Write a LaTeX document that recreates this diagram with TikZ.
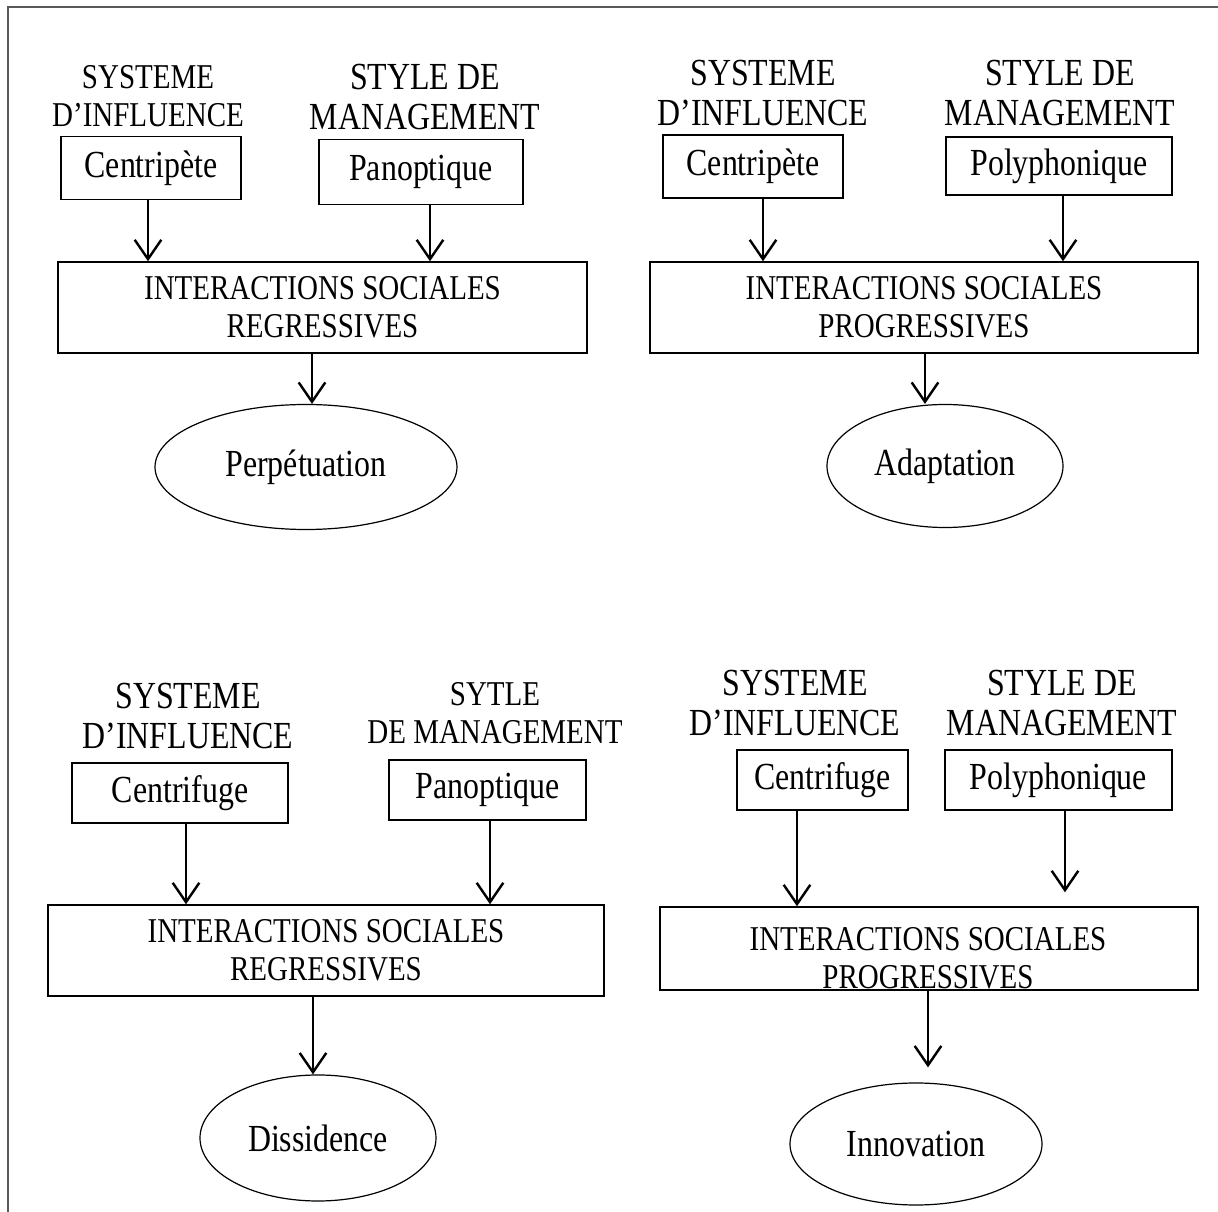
\documentclass[tikz,border=0pt]{standalone}
\usepackage{fontspec}
\setmainfont{Liberation Serif}[FakeStretch=0.833]
\usetikzlibrary{arrows.meta,shapes.geometric}

\newcommand{\pxl}{0.01454cm}

\tikzset{
  heading/.style={align=center, inner sep=0pt},
  smalltext/.style={font=\fontsize{14.4}{15.7}\selectfont},
  smallbox/.style={draw, line width=0.6pt, inner sep=0pt},
  bigbox/.style={draw, line width=0.6pt, align=center, inner sep=0pt, smalltext},
  result/.style={draw, ellipse, line width=0.5pt, inner sep=0pt},
  arr/.style={-{Straight Barb[length=8pt,width=11pt]}, line width=1pt}
}

\begin{document}
\begin{tikzpicture}[x=\pxl, y=-\pxl, font=\fontsize{15.84}{16.6}\selectfont]
      \useasboundingbox (0,0) rectangle (1218,1212);

      % Draw the frame
      \draw[black!65, line width=0.8pt] (8,1212) -- (8,7) -- (1218,7);

      % Top left: regressive, centripete
      \node[heading, smalltext] (si1) at (148,96) {SYSTEME\\D’INFLUENCE};
      \node[heading] (sm1) at (425,97) {STYLE DE\\MANAGEMENT};
      \node[smallbox, minimum width=180*\pxl, minimum height=63*\pxl] (cp1) at (151,168) {Centripète};
      \node[smallbox, minimum width=204*\pxl, minimum height=65*\pxl] (pan1) at (421,172) {Panoptique};
      \node[bigbox, minimum width=529*\pxl, minimum height=91*\pxl] (isr1) at (322.5,307.5) {INTERACTIONS SOCIALES\\REGRESSIVES};
      \node[result, minimum width=302*\pxl, minimum height=125*\pxl] (perp) at (306,467) {Perpétuation};

      % Top right: progressive, centripete
      \node[heading] (si2) at (763,93) {SYSTEME\\D’INFLUENCE};
      \node[heading] (sm2) at (1060,93) {STYLE DE\\MANAGEMENT};
      \node[smallbox, minimum width=180*\pxl, minimum height=63*\pxl] (cp2) at (753,166.5) {Centripète};
      \node[smallbox, minimum width=226*\pxl, minimum height=58*\pxl] (poly2) at (1059,166) {Polyphonique};
      \node[bigbox, minimum width=548*\pxl, minimum height=91*\pxl] (isp2) at (924,307.5) {INTERACTIONS SOCIALES\\PROGRESSIVES};
      \node[result, minimum width=236*\pxl, minimum height=123*\pxl] (adapt) at (945,466) {Adaptation};

      % Bottom left: regressive, centrifuge
      \node[heading] (si3) at (188,716) {SYSTEME\\D’INFLUENCE};
      \node[heading, smalltext] (sm3) at (495,713) {SYTLE\\DE MANAGEMENT};
      \node[smallbox, minimum width=216*\pxl, minimum height=60*\pxl] (cf3) at (180,793) {Centrifuge};
      \node[smallbox, minimum width=197*\pxl, minimum height=60*\pxl] (pan3) at (487.5,790) {Panoptique};
      \node[bigbox, minimum width=556*\pxl, minimum height=91*\pxl] (isr3) at (326,950.5) {INTERACTIONS SOCIALES\\REGRESSIVES};
      \node[result, minimum width=236*\pxl, minimum height=126*\pxl] (diss) at (318,1138) {Dissidence};

      % Bottom right: progressive, centrifuge
      \node[heading] (si4) at (795,703) {SYSTEME\\D’INFLUENCE};
      \node[heading] (sm4) at (1062,703) {STYLE DE\\MANAGEMENT};
      \node[smallbox, minimum width=171*\pxl, minimum height=60*\pxl] (cf4) at (822.5,780) {Centrifuge};
      \node[smallbox, minimum width=227*\pxl, minimum height=60*\pxl] (poly4) at (1058.5,780) {Polyphonique};
      \node[bigbox, minimum width=538*\pxl, minimum height=83*\pxl] (isp4) at (929,948.5) {};
      \begin{scope}
        \clip (isp4.south west) rectangle (isp4.north east);
        \node[heading, smalltext] (isp4t) at (928,958) {INTERACTIONS SOCIALES\\PROGRESSIVES};
      \end{scope}
      \node[result, minimum width=252*\pxl, minimum height=122*\pxl] (innov) at (916,1144) {Innovation};

      % Draw the arrows (source/target/offset)
      \foreach \s/\t/\o in {cp1/isr1/-3, pan1/isr1/9, isr1/perp/-10.5,
                            cp2/isp2/10, poly2/isp2/4, isp2/adapt/1,
                            cf3/isr3/6, pan3/isr3/2.5, isr3/diss/-13,
                            cf4/isp4/-25.5}
        \draw[arr] ([xshift=\o*\pxl]\s.south) -- ([xshift=\o*\pxl]\s.south |- \t.north);

      % Short arrows on the bottom right
      \draw[arr, shorten >=14*\pxl] ([xshift=6.5*\pxl]poly4.south) -- ([xshift=6.5*\pxl]poly4.south |- isp4.north);
      \draw[arr, shorten >=15*\pxl] ([xshift=-1*\pxl]isp4.south) -- ([xshift=-1*\pxl]isp4.south |- innov.north);
    \end{tikzpicture}
\end{document}
